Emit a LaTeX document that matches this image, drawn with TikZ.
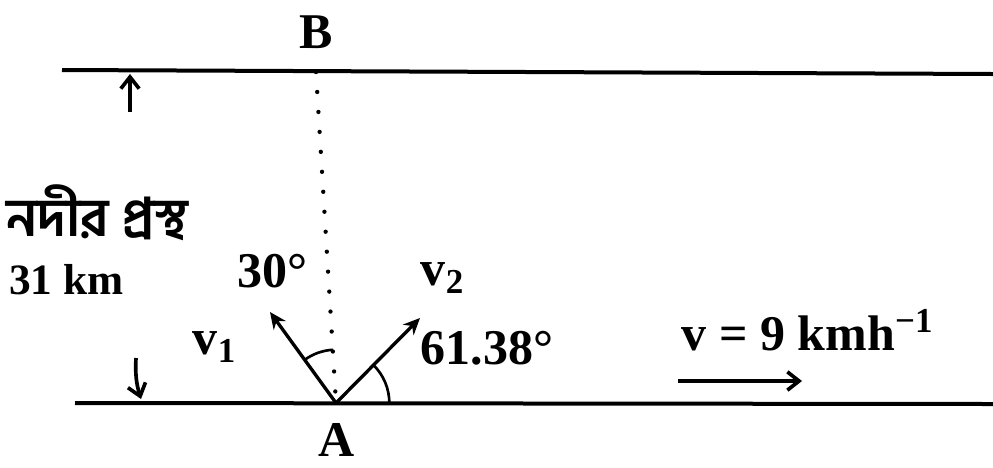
\documentclass[tikz,border=0pt]{standalone}
\usepackage{fontspec}
\setmainfont{Liberation Serif}
\newfontfamily\bnfont[Script=Bengali]{Hind Siliguri}
\usetikzlibrary{arrows.meta,angles}
\begin{document}
\begin{tikzpicture}[x=0.3pt,y=-0.3pt,
  bank/.style={line width=1.2pt},
  vec/.style={line width=1pt,-{Stealth[length=5pt,width=4.5pt]}},
  barb/.style={line width=1.1pt,-{Straight Barb[length=3.5pt,width=5.5pt]}},
  lbl/.style={font=\fontsize{15}{17}\selectfont\bfseries,inner sep=1pt},
  small/.style={font=\fontsize{13}{15}\selectfont\bfseries,inner sep=1pt},
  bn/.style={font=\bnfont\fontsize{16}{18}\selectfont\bfseries,inner sep=1pt},
  dots/.style={line width=1.3pt,line cap=round,dash pattern=on 0pt off 6pt},
  arcl/.style={draw,line width=0.8pt}]
\useasboundingbox (0,0) rectangle (993,467);
% banks
\coordinate (TL) at (62,70);
\coordinate (TR) at (993,74);
\coordinate (BL) at (75,403);
\coordinate (BR) at (993,404);
\draw[bank] (TL) -- (TR);
\draw[bank] (BL) -- (BR);
% points
\coordinate (B) at (316,72);
\coordinate (A) at (336,403);
\coordinate (R) at (500,403);
\coordinate (V1) at (270,312);
\coordinate (V2) at (420,318);
\draw[dots] (B) -- (A);
\draw[vec] (A) -- (V1);
\draw[vec] (A) -- (V2);
\pic[arcl,angle radius=16pt] {angle = B--A--V1};
\pic[arcl,angle radius=16pt] {angle = R--A--V2};
% labels
\node[lbl] (Bl) at (316,32) {B};
\node[lbl] (Al) at (337,440) {A};
\node[lbl] (a30) at (272,271) {30°};
\node[lbl] (v2l) at (443,278) {v\textsubscript{2}};
\node[lbl] (v1l) at (215,347) {v\textsubscript{1}};
\node[lbl] (a61) at (487,348) {61.38°};
\node[lbl] (vel) at (808,330) {v = 9 kmh\textsuperscript{−1}};
\coordinate (F1) at (678,381);
\coordinate (F2) at (802,381);
\draw[barb] (F1) -- (F2);
% width
\node[bn,anchor=west] (bnl) at (3,213) {নদীর প্রস্থ};
\node[small,anchor=west] (km) at (5,280) {31 km};
\coordinate (U1) at (130,112);
\coordinate (U2) at (130,74);
\draw[barb] (U1) -- (U2);
\coordinate (D1) at (136,358);
\coordinate (D2) at (141,399);
\draw[barb] (D1) to[bend right=10] (D2);
\end{tikzpicture}
\end{document}
